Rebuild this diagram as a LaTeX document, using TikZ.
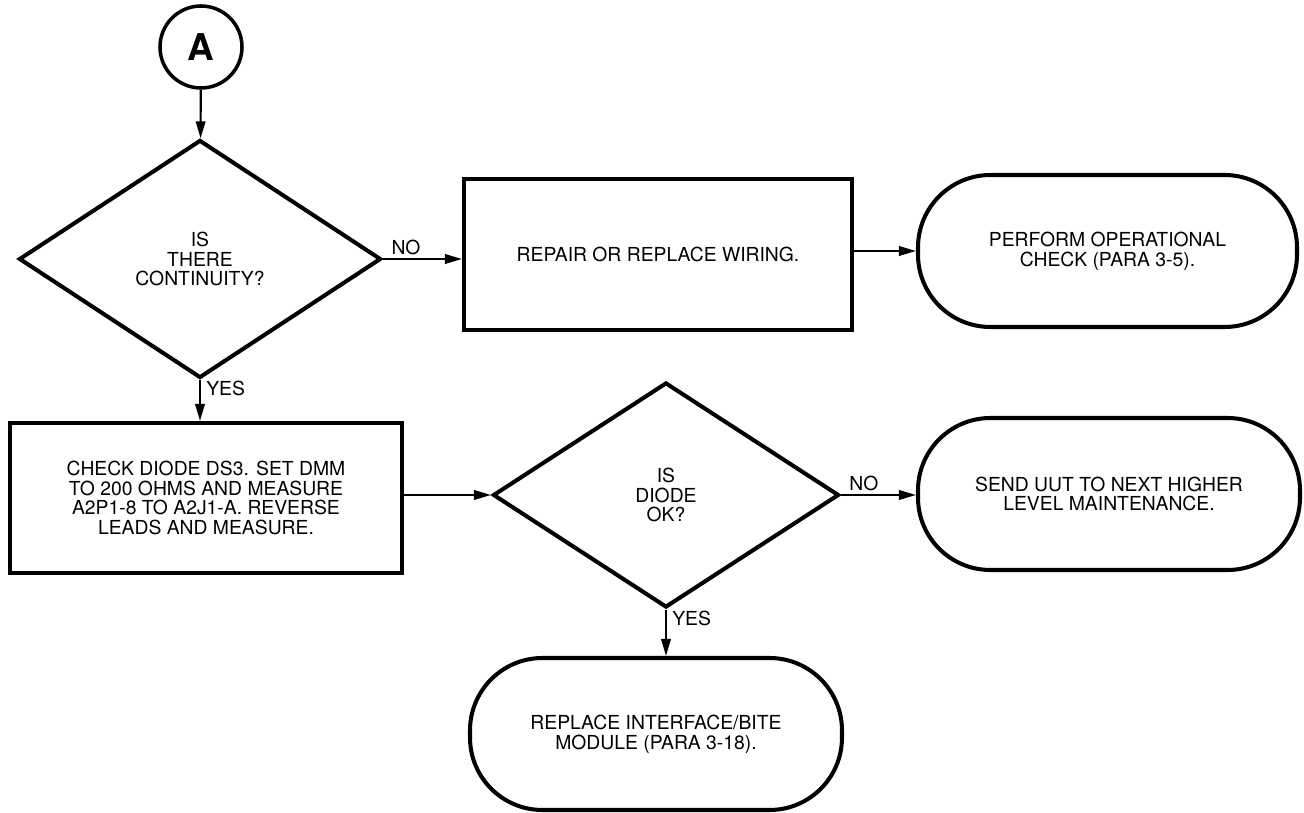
\documentclass[tikz,border=0pt]{standalone}
\usepackage{fontspec}
\setmainfont{TeX Gyre Heros}
\usepackage{tikz}
\usetikzlibrary{shapes.geometric,arrows.meta}

\begin{document}
\begin{tikzpicture}[
    every node/.style={font=\fontsize{11}{11.2}\selectfont, align=center, inner sep=0pt},
    decision/.style={diamond, draw, line width=2.3pt},
    process/.style={rectangle, draw, line width=2.3pt},
    terminal/.style={rectangle, rounded corners=1.45cm, draw, line width=2.3pt, minimum width=7.6cm, minimum height=3.04cm},
    flow/.style={line width=1.2pt, -{Triangle[length=3.4mm,width=1.9mm]}},
    answer/.style={draw=none, font=\fontsize{11}{11.2}\selectfont}
    ]
    \useasboundingbox (0,0) rectangle (26.08,-16.26);

    \node[circle, draw, line width=2pt, minimum size=1.64cm] (start) at (4.02,-0.94) {\fontsize{21}{21}\selectfont\bfseries A};
    \node[decision, minimum width=7.24cm, minimum height=4.76cm] (cont) at (4.0,-5.18) {IS\\THERE\\CONTINUITY?};
    \node[process, minimum width=7.76cm, minimum height=3.02cm] (wiring) at (13.16,-5.09) {REPAIR OR REPLACE WIRING.};
    \node[terminal, minimum width=7.58cm] (opcheck) at (22.15,-5.02) {PERFORM OPERATIONAL\\CHECK (PARA 3-5).};
    \node[process, minimum width=7.84cm, minimum height=3.0cm] (diode) at (4.12,-9.96) {CHECK DIODE DS3. SET DMM\\TO 200 OHMS AND MEASURE\\A2P1-8 TO A2J1-A. REVERSE\\LEADS AND MEASURE.};
    \node[decision, minimum width=6.92cm, minimum height=4.5cm] (diodeok) at (13.32,-9.9) {IS\\DIODE\\OK?};
    \node[terminal, minimum width=7.64cm] (higher) at (22.18,-9.88) {SEND UUT TO NEXT HIGHER\\LEVEL MAINTENANCE.};
    \node[terminal, minimum width=7.44cm] (module) at (13.12,-14.68) {REPLACE INTERFACE/BITE\\MODULE (PARA 3-18).};

    \draw[flow] (start) -- (cont);
    \draw[flow] (cont.east) -- (cont.east -| wiring.west) node[answer, pos=0.05, above right=2pt] {NO};
    \draw[flow] (wiring.east |- opcheck) -- (opcheck.west);
    \draw[flow] (cont.south) -- (cont.south |- diode.north) node[answer, pos=0.2, right=3pt] {YES};
    \draw[flow] (diode.east |- diodeok) -- (diodeok.west);
    \draw[flow] (diodeok.east) -- (diodeok.east -| higher.west) node[answer, pos=0.05, above right=2pt] {NO};
    \draw[flow] (diodeok.south) -- (diodeok.south |- module.north) node[answer, pos=0.2, right=3pt] {YES};
\end{tikzpicture}
\end{document}
